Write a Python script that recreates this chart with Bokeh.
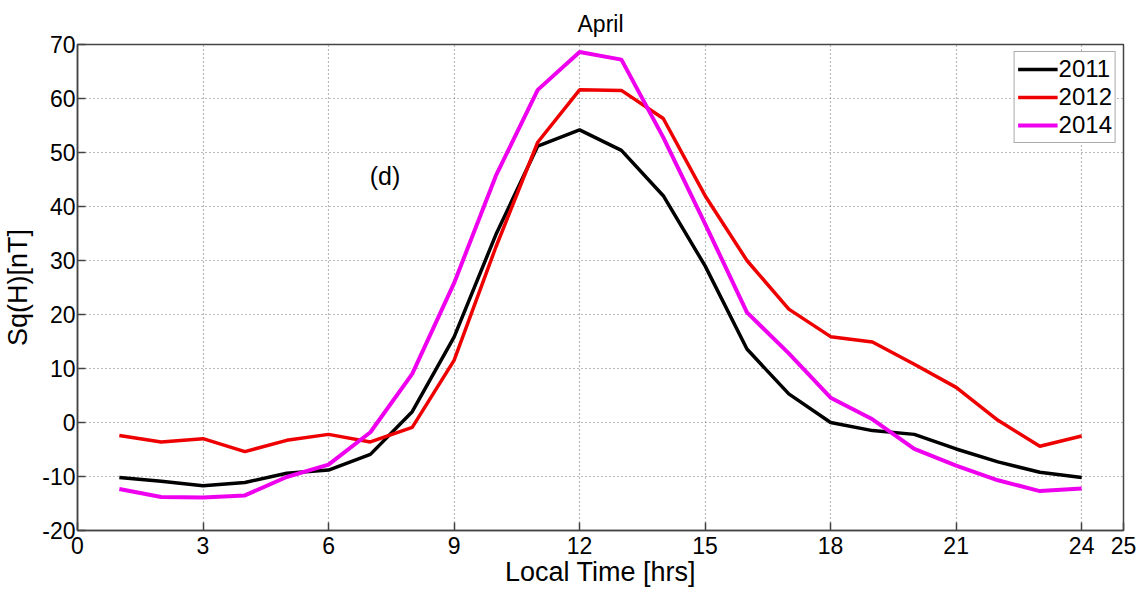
from bokeh.plotting import figure
from bokeh.models import Range1d, FixedTicker, Legend, LegendItem, Label, Title, PrintfTickFormatter
from bokeh.embed import file_html
from bokeh.resources import INLINE

hours = list(range(1, 25))
y2011 = [-10.2, -10.9, -11.7, -11.1, -9.4, -8.8, -5.9, 2.0, 15.8, 34.8, 51.2, 54.2,
         50.4, 42.0, 29.0, 13.6, 5.3, 0.0, -1.5, -2.2, -4.9, -7.3, -9.2, -10.2]
y2012 = [-2.4, -3.6, -3.0, -5.4, -3.3, -2.2, -3.6, -0.9, 11.5, 32.5, 51.9, 61.6,
         61.5, 56.3, 42.0, 30.0, 21.0, 15.9, 14.9, 10.8, 6.5, 0.4, -4.4, -2.5]
y2014 = [-12.3, -13.8, -13.9, -13.5, -10.1, -7.8, -1.8, 9.0, 25.8, 45.7, 61.6, 68.6,
         67.2, 52.8, 36.8, 20.4, 12.8, 4.6, 0.6, -4.9, -8.0, -10.7, -12.7, -12.2]
series_names = ["2011", "2012", "2014"]
series_colors = ["#000000", "#ee0000", "#ee00ee"]
x_ticks = [0, 3, 6, 9, 12, 15, 18, 21, 24, 25]
y_ticks = list(range(-20, 71, 10))

FONT = "Liberation Sans"

p = figure(frame_width=1046, frame_height=486, output_backend="svg", toolbar_location=None,
           x_range=Range1d(0, 25), y_range=Range1d(-20, 70),
           min_border_left=76, min_border_right=17, min_border_top=44, min_border_bottom=40)
p.title = Title(text="April", align="center", text_font=FONT, text_font_size="23px",
                text_font_style="normal", text_color="black", offset=0, standoff=15)
p.outline_line_color = "#444444"
p.outline_line_width = 1.5
p.background_fill_color = "white"

for ax in (p.xaxis[0], p.yaxis[0]):
    ax.major_tick_in = 8
    ax.major_tick_out = 0
    ax.minor_tick_line_color = None
    ax.axis_line_color = "#444444"
    ax.axis_line_width = 1.5
    ax.major_tick_line_color = "#444444"
    ax.major_tick_line_width = 1.5
    ax.major_label_text_font = FONT
    ax.major_label_text_font_size = "23px"
    ax.major_label_text_color = "black"
    ax.axis_label_text_font = FONT
    ax.axis_label_text_font_size = "27px"
    ax.axis_label_text_font_style = "normal"
    ax.axis_label_text_color = "black"
    ax.formatter = PrintfTickFormatter(format="%d")

p.xaxis[0].ticker = FixedTicker(ticks=x_ticks)
p.yaxis[0].ticker = FixedTicker(ticks=y_ticks)
p.xaxis[0].axis_label = "Local Time [hrs]"
p.yaxis[0].axis_label = "Sq(H)[nT]"
p.xaxis[0].major_label_standoff = 6
p.yaxis[0].major_label_standoff = 2
p.xaxis[0].axis_label_standoff = 0
p.yaxis[0].axis_label_standoff = 6

p.xgrid.ticker = FixedTicker(ticks=x_ticks)
p.ygrid.ticker = FixedTicker(ticks=y_ticks)
for g in (p.xgrid[0], p.ygrid[0]):
    g.grid_line_color = "#777777"
    g.grid_line_dash = "1 3"
    g.grid_line_width = 1.2

renderers = []
for name, ys, col, lw in zip(series_names, [y2011, y2012, y2014], series_colors, [3.5, 3.5, 4]):
    r = p.line(hours, ys, line_color=col, line_width=lw)
    renderers.append(r)

legend = Legend(items=[LegendItem(label=n, renderers=[r]) for n, r in zip(series_names, renderers)],
                location="top_right", label_text_font=FONT, label_text_font_size="24px",
                label_text_color="black",
                label_standoff=1, glyph_width=40, glyph_height=28, spacing=0,
                padding=3, margin=7, border_line_color="#555555", border_line_width=1.5,
                label_height=28)
p.add_layout(legend)

p.add_layout(Label(x=7.35, y=45.7, text="(d)", text_font=FONT, text_font_size="25px",
                   text_color="black", text_align="center", text_baseline="middle"))

open("out.html", "w").write(file_html(p, INLINE))
